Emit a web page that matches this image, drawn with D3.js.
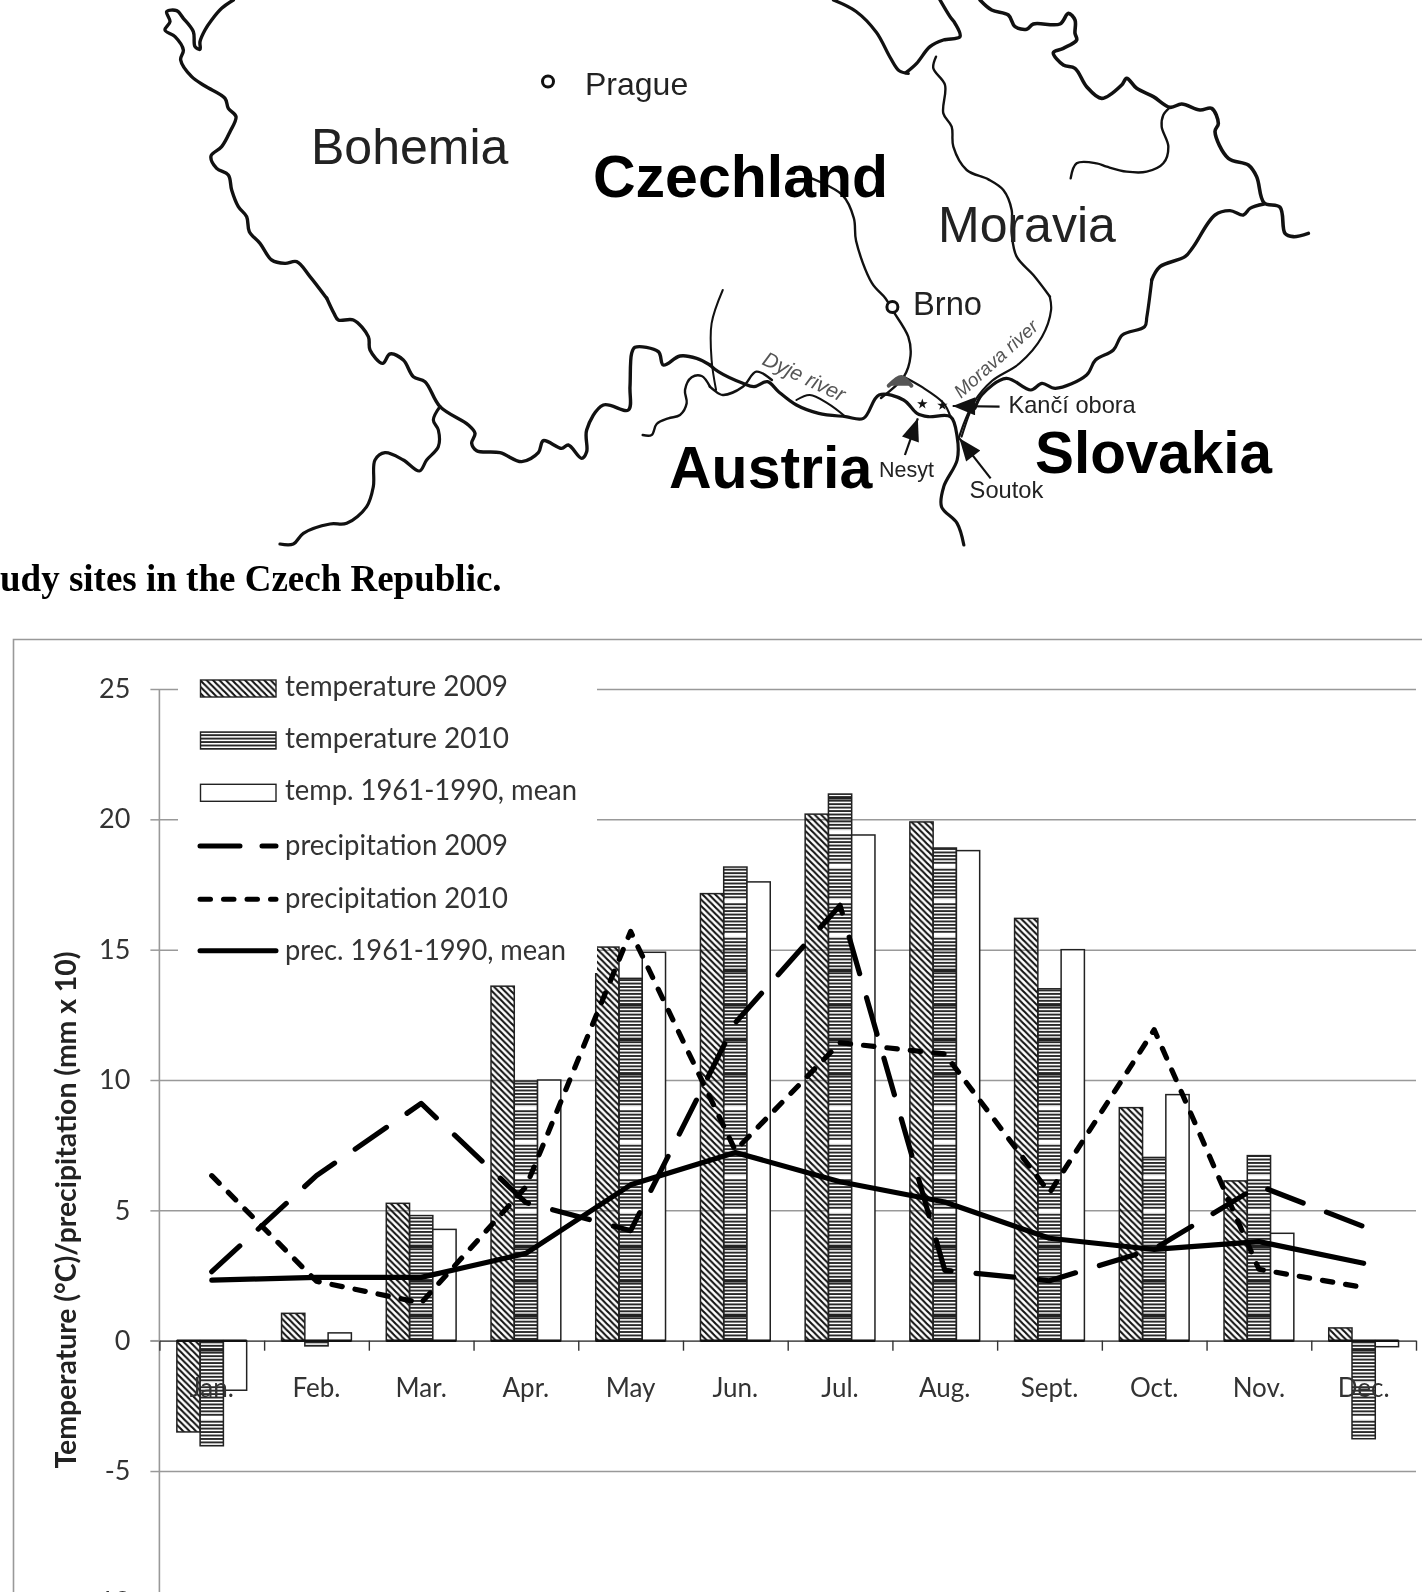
<!DOCTYPE html>
<html>
<head>
<meta charset="utf-8">
<script src="https://cdn.jsdelivr.net/npm/d3@7"></script>
<style>
html, body { margin: 0; padding: 0; background: #fff; overflow: hidden; }
svg { display: block; filter: blur(0.5px); }
.map-label { font-family: "Liberation Sans", sans-serif; fill: #222; }
.chart-text { font-family: Lato, "Open Sans", sans-serif; fill: #333; }
</style>
</head>
<body>
<svg id="fig" width="1422" height="1592"></svg>
<script>
// chart values
var months = ["Jan.", "Feb.", "Mar.", "Apr.", "May", "Jun.", "Jul.", "Aug.", "Sept.", "Oct.", "Nov.", "Dec."];
var yTicks = [-10, -5, 0, 5, 10, 15, 20, 25];

var temp2009 = [-3.5, 1.05, 5.27, 13.6, 15.1, 17.15, 20.2, 19.9, 16.2, 8.94, 6.13, 0.49];
var temp2010 = [-4.03, -0.2, 4.8, 9.96, 13.9, 18.17, 20.97, 18.9, 13.5, 7.03, 7.1, -3.76];
var tempMean = [-1.9, 0.3, 4.27, 10.0, 14.9, 17.6, 19.4, 18.8, 15.0, 9.44, 4.12, -0.23];

var prec2009 = [2.65, 6.33, 9.1, 5.3, 4.22, 12.2, 16.7, 2.7, 2.3, 3.52, 5.94, 4.38];
var prec2010 = [6.33, 2.28, 1.45, 5.9, 15.7, 7.3, 11.43, 11.0, 5.67, 11.93, 2.74, 2.04];
var precMean = [2.32, 2.43, 2.43, 3.35, 5.98, 7.22, 6.1, 5.32, 3.93, 3.5, 3.8, 2.97];

var barNames = ["temperature 2009", "temperature 2010", "temp. 1961-1990, mean"];
var lineNames = ["precipitation 2009", "precipitation 2010", "prec. 1961-1990, mean"];

// map traces, each in its own sheet of the scanned map
var nwBorder = [[250,0],[215,25],[185,60],[165,90],[150,125],[150,148],[135,140],[130,95],[100,55],[80,32],[50,35],[60,65],[45,90],[75,110],[100,150],[92,180],[125,230],[165,258],[225,295],[235,325],[258,350],[240,395],[215,440],[183,468],[200,505],[235,525],[245,570],[265,620],[290,650],[298,695],[330,730],[365,780],[405,790],[440,785],[480,830],[530,895]];
var swBorder = [[200,84],[222,130],[235,150],[280,150],[325,200],[330,240],[368,280],[390,252],[430,270],[460,320],[495,335],[540,410],[625,465],[645,490],[635,520],[650,542],[720,548],[785,575],[835,548],[850,512],[905,535],[925,525],[965,565],[980,545],[980,480],[1030,405],[1105,420],[1110,350],[1115,250],[1125,232],[1195,245],[1210,285],[1260,258],[1310,265],[1350,285]];
var swBavaria = [[540,410],[520,450],[535,480],[535,530],[500,570],[478,603],[430,570],[375,548],[345,570],[340,650],[320,710],[260,760],[210,762],[130,790],[100,822],[60,822]];
var swWiggle = [[1148,495],[1175,495],[1190,462],[1225,445],[1260,435],[1280,400],[1275,360],[1295,322],[1325,318],[1350,350]];
var borderSouth = [[246,255],[265,275],[320,310],[345,320],[375,305],[400,335],[440,375],[490,400],[550,410],[590,415],[625,345],[680,360],[710,400],[735,410],[785,410],[800,470],[800,540],[770,620],[765,680],[800,730],[815,795]];
var riverDyje = [[246,320],[255,330],[275,345],[320,320],[350,275],[385,300]];
var riverThaya = [[275,30],[250,130],[250,240],[260,330]];
var riverIsland = [[440,360],[470,345],[510,370],[550,410]];
var riverBrnoLower = [[680,290],[720,320],[770,370],[785,410]];
var riverSoutok = [[840,360],[825,410],[810,470]];
var borderSlovakLow = [[1236,0],[1225,110],[1220,140],[1170,165],[1150,210],[1110,240],[1090,285],[1020,325],[990,310],[965,330],[910,295],[855,345],[840,385]];
var borderNorthA = [[270,0],[320,30],[365,85],[395,150],[415,185],[435,192]];
var borderNorthB = [[18,218],[50,190],[90,140],[130,120],[180,110],[165,70],[150,50],[120,0]];
var neBorder = [[240,0],[275,30],[325,45],[345,80],[380,88],[400,72],[480,72],[505,40],[525,60],[525,100],[530,120],[490,145],[460,158],[490,195],[525,205],[560,260],[605,295],[665,255],[680,235],[710,265],[760,290],[810,322],[845,312],[900,330],[935,325],[955,370],[945,395],[985,475],[1045,495],[1070,530],[1092,608],[1140,622],[1155,700],[1180,710],[1225,700]];
var neSlovak = [[1092,612],[1050,625],[1030,645],[990,632],[945,645],[880,740],[855,770],[780,800],[755,840]];
var neMorava = [[108,170],[100,205],[135,255],[130,340],[155,380],[160,440],[200,510],[265,538],[310,570],[335,630],[335,700],[350,770],[400,825],[450,890]];
var neOdra = [[810,322],[790,345],[785,380],[805,440],[790,490],[740,515],[680,515],[620,500],[590,490],[530,490],[512,535]];
var riverMoravaLow = [[747,775],[750,810],[730,880],[680,950],[620,995],[580,1050],[560,1100],[545,1150]];
var riverBrno = [[210,460],[290,510],[315,570],[320,630],[355,740],[385,780],[400,810],[435,880],[440,930],[425,985],[375,1040]];
var reservoir = [[392,1008],[420,985],[442,1008]];

var svg = d3.select("#fig");
svg.append("rect").attr("width", 1422).attr("height", 1592).attr("fill", "#fff");

var defs = svg.append("defs");
var hatchDiag = defs.append("pattern").attr("id", "hatchDiag").attr("patternUnits", "userSpaceOnUse")
    .attr("width", 6.4).attr("height", 6.4);
hatchDiag.append("path").attr("d", "M-1,-1 L7.4,7.4 M-1,5.4 L1,7.4 M5.4,-1 L7.4,1")
    .attr("stroke", "#111").attr("stroke-width", 2.1);

// the scan left a beat in the flat hatch: four dark bands, then four light ones
var beat = 34.5, stripe = 3.45;
var hatchFlat = defs.append("pattern").attr("id", "hatchFlat").attr("patternUnits", "userSpaceOnUse")
    .attr("width", 8).attr("height", beat * 8).attr("patternTransform", "translate(0,955)");
d3.range(8).forEach(function(b){
    var top = b * beat;
    d3.range(10).forEach(function(s){
        hatchFlat.append("rect").attr("y", top + s * stripe).attr("width", 8).attr("height", 1.9).attr("fill", "#2a2a2a");
    });
    if (b < 4) {
        hatchFlat.append("rect").attr("y", top + 4 * stripe).attr("width", 8).attr("height", 3.2).attr("fill", "#222");
    } else {
        hatchFlat.append("rect").attr("y", top + 4 * stripe - 0.5).attr("width", 8).attr("height", 3).attr("fill", "#fff");
    }
});

defs.append("marker").attr("id", "arrowHead").attr("viewBox", "0 0 20 16").attr("refX", 20).attr("refY", 8)
    .attr("markerUnits", "userSpaceOnUse").attr("markerWidth", 26).attr("markerHeight", 18).attr("orient", "auto")
    .append("path").attr("d", "M0,0 L20,8 L0,16 Z").attr("fill", "#111");

//---- map ----
function sheet(x0, y0, w, h, zx, zy) {
    return {x: d3.scaleLinear().domain([0, w * zx]).range([x0, x0 + w]), y: d3.scaleLinear().domain([0, h * zy]).range([y0, y0 + h])};
}
var sheetNW = sheet(150, 0, 300, 300, 3, 3);
var sheetSW = sheet(260, 270, 450, 280, 3, 3);
var sheetNE = sheet(900, 0, 430, 300, 3, 3);
var sheetEast = sheet(711, 0, 711, 600, 1568 / 711, 1568 / 600);
var sheetSouth = sheet(600, 280, 700, 320, 1568 / 700, 3);

function trace(sh, pts, width, col) {
    var line = d3.line().x(function(d){ return sh.x(d[0]) }).y(function(d){ return sh.y(d[1]) })
        .curve(d3.curveCatmullRom.alpha(0.5));
    return svg.append("path").attr("d", line(pts)).attr("fill", "none")
        .attr("stroke", col || "#111").attr("stroke-width", width)
        .attr("stroke-linejoin", "round").attr("stroke-linecap", "round");
}
trace(sheetNW, nwBorder, 3.4);
trace(sheetSW, swBorder, 3.4);
trace(sheetSW, swBavaria, 3.2);
trace(sheetSW, swWiggle, 2.4);
trace(sheetSouth, borderSouth, 3.2);
trace(sheetSouth, riverDyje, 2.4);
trace(sheetSouth, riverThaya, 2);
trace(sheetSouth, riverIsland, 2);
trace(sheetSouth, riverBrnoLower, 2.2);
trace(sheetSouth, riverSoutok, 2);
trace(sheetSouth, borderSlovakLow, 3.2);
trace(sheetEast, borderNorthA, 3.2);
trace(sheetNE, borderNorthB, 3.4);
trace(sheetNE, neBorder, 3.6);
trace(sheetNE, neSlovak, 3.4);
trace(sheetNE, neMorava, 2.4);
trace(sheetNE, neOdra, 2.4);
trace(sheetEast, riverMoravaLow, 2.2);
trace(sheetEast, riverBrno, 2.4);
trace(sheetEast, reservoir, 4, "#555").attr("fill", "#555");

svg.selectAll("circle.city").data([[548, 81.5], [892.4, 307]]).enter().append("circle")
    .attr("class", "city").attr("cx", function(d){ return d[0] }).attr("cy", function(d){ return d[1] })
    .attr("r", 5.5).attr("fill", "#fff").attr("stroke", "#111").attr("stroke-width", 3);

[[722, 372], [767, 376]].forEach(function(d){
    svg.append("path").attr("d", d3.symbol(d3.symbolStar, 34)())
        .attr("transform", "translate(" + sheetSouth.x(d[0]) + "," + sheetSouth.y(d[1]) + ")").attr("fill", "#111");
});

[[[895, 380], [790, 378]], [[683, 525], [712, 415]], [[875, 595], [805, 475]]].forEach(function(d){
    svg.append("line").attr("x1", sheetSouth.x(d[0][0])).attr("y1", sheetSouth.y(d[0][1]))
        .attr("x2", sheetSouth.x(d[1][0])).attr("y2", sheetSouth.y(d[1][1]))
        .attr("stroke", "#111").attr("stroke-width", 2.2).attr("marker-end", "url(#arrowHead)");
});

function mapLabel(txt, x, y, size, bold, col, rot, italic) {
    svg.append("text").attr("class", "map-label").text(txt)
        .attr("transform", "translate(" + x + "," + y + ")" + (rot ? " rotate(" + rot + ")" : ""))
        .style("font-size", size + "px").style("font-weight", bold ? "bold" : "normal")
        .style("font-style", italic ? "italic" : "normal")
        .style("fill", col || "#222");
}
mapLabel("Prague", 585, 94.5, 32);
mapLabel("Bohemia", 311, 164, 50);
mapLabel("Czechland", 593, 197, 59, true, "#000");
mapLabel("Moravia", 938, 242, 50);
mapLabel("Brno", 913, 315, 32.7);
mapLabel("Dyje river", 761, 364, 21, false, "#555", 25.4, true);
mapLabel("Morava river", 961, 399, 19, false, "#555", -42, true);
mapLabel("Kančí obora", 1008.5, 413, 23.6);
mapLabel("Austria", 669, 488, 59, true, "#000");
mapLabel("Nesyt", 879, 477, 21.5);
mapLabel("Soutok", 969.6, 498, 23.7);
mapLabel("Slovakia", 1035, 473, 58.4, true, "#000");

svg.append("text").text("udy sites in the Czech Republic.")
    .attr("x", 0).attr("y", 591)
    .style("font-family", '"Liberation Serif", serif').style("font-weight", "bold").style("font-size", "37px").style("fill", "#000");

//---- chart ----
var axisLeftX = 159.4, plotRight = 1416;
var yTop = 689, yZero = 1340.7;

svg.append("path").attr("d", "M1422,639.5 H13.5 V1592").attr("fill", "none").attr("stroke", "#999").attr("stroke-width", 1.6);

var y = d3.scaleLinear().domain([0, 25]).range([yZero, yTop]);
var x = d3.scaleBand().domain(months).range([axisLeftX, plotRight]).paddingInner(1/3).paddingOuter(1/6);
var xSub = d3.scaleBand().domain(d3.range(3)).range([0, x.bandwidth()]);
var xEdge = d3.scaleLinear().domain([0, 12]).range([axisLeftX, plotRight]);

// gridlines and y labels
var gridAxis = svg.append("g").attr("transform", "translate(" + axisLeftX + ",0)")
    .call(d3.axisLeft(y).tickValues(yTicks).tickSizeInner(-(plotRight - axisLeftX)).tickSizeOuter(0).tickFormat(""));
gridAxis.selectAll("line").attr("stroke", "#999").attr("stroke-width", 1.5);
gridAxis.select(".domain").remove();

var leftAxis = svg.append("g").attr("transform", "translate(" + axisLeftX + ",0)")
    .call(d3.axisLeft(y).tickValues(yTicks).tickFormat(String).tickSize(9).tickPadding(20));
leftAxis.selectAll("line").attr("stroke", "#999").attr("stroke-width", 1.5);
leftAxis.selectAll("text").attr("class", "chart-text").style("font-size", "27px").style("fill", "#333");
leftAxis.select(".domain").remove();
svg.append("line").attr("x1", axisLeftX).attr("x2", axisLeftX).attr("y1", yTop).attr("y2", 1592)
    .attr("stroke", "#999").attr("stroke-width", 1.6);

// zero line with month ticks, under the bars
var zeroAxis = svg.append("g").attr("transform", "translate(0," + y(0) + ")")
    .call(d3.axisBottom(xEdge).tickValues(d3.range(13)).tickSize(10).tickSizeOuter(0).tickFormat(""));
zeroAxis.selectAll("line").attr("stroke", "#333").attr("stroke-width", 1.4);
zeroAxis.select(".domain").attr("stroke", "#444").attr("stroke-width", 1.3);
svg.append("line").attr("x1", 150.4).attr("x2", axisLeftX).attr("y1", y(0)).attr("y2", y(0)).attr("stroke", "#999").attr("stroke-width", 1.5);

// bars
var barSeries = [
    {values: temp2009, fill: "url(#hatchDiag)"},
    {values: temp2010, fill: "url(#hatchFlat)"},
    {values: tempMean, fill: "#fff"}
];
barSeries.forEach(function(s, k){
    svg.append("g").selectAll("rect").data(s.values).enter().append("rect")
        .attr("x", function(d, i){ return x(months[i]) + xSub(k) })
        .attr("width", xSub.bandwidth())
        .attr("y", function(d){ return y(Math.max(d, 0)) })
        .attr("height", function(d){ return Math.abs(y(d) - y(0)) })
        .attr("fill", s.fill).attr("stroke", "#222").attr("stroke-width", 1.5);
});

// heavy foot under each month's bars
svg.append("g").selectAll("line").data(months).enter().append("line")
    .attr("x1", function(d){ return x(d) }).attr("x2", function(d){ return x(d) + x.bandwidth() })
    .attr("y1", y(0)).attr("y2", y(0)).attr("stroke", "#111").attr("stroke-width", 2.6);

var monthAxis = svg.append("g").attr("transform", "translate(0," + y(0) + ")")
    .call(d3.axisBottom(x).tickSize(0).tickPadding(38));
monthAxis.select(".domain").remove();
monthAxis.selectAll("text").attr("class", "chart-text").style("font-size", "26px").style("fill", "#333");

// precipitation lines
var precLine = d3.line()
    .x(function(d, i){ return x(months[i]) + x.bandwidth() / 2 })
    .y(function(d){ return y(d) });
var lineSeries = [
    {values: prec2009, dash: "38,25"},
    {values: prec2010, dash: "10.5,13"},
    {values: precMean, dash: null}
];
lineSeries.forEach(function(s){
    svg.append("path").attr("d", precLine(s.values)).attr("fill", "none")
        .attr("stroke", "#000").attr("stroke-width", 5.2).attr("stroke-linecap", "round").attr("stroke-linejoin", "round")
        .attr("stroke-dasharray", s.dash);
});

// legend sits on a white box above the grid
svg.append("rect").attr("x", 178).attr("y", 675).attr("width", 419).attr("height", 298).attr("fill", "#fff");
var legendBarY = [680, 732, 784.3];
var legendLineY = [846, 899.3, 950.7];
var legendText = function(txt, yPos, len) {
    svg.append("text").attr("class", "chart-text").text(txt).attr("x", 285).attr("y", yPos)
        .attr("textLength", len).attr("lengthAdjust", "spacingAndGlyphs").style("font-size", "28px");
};
var barLabelLen = [223, 224, 292], lineLabelLen = [223, 223, 281];
barNames.forEach(function(n, k){
    svg.append("rect").attr("x", 200.5).attr("y", legendBarY[k]).attr("width", 75.5).attr("height", 17)
        .attr("fill", barSeries[k].fill).attr("stroke", "#222").attr("stroke-width", 1.4);
    legendText(n, legendBarY[k] + 15.5, barLabelLen[k]);
});
lineNames.forEach(function(n, k){
    svg.append("line").attr("x1", 200).attr("x2", 276).attr("y1", legendLineY[k]).attr("y2", legendLineY[k])
        .attr("stroke", "#000").attr("stroke-width", 5).attr("stroke-linecap", "round")
        .attr("stroke-dasharray", k == 0 ? "40,22" : lineSeries[k].dash);
    legendText(n, legendLineY[k] + 9, lineLabelLen[k]);
});

// y title
svg.append("text").attr("class", "chart-text").text("Temperature (°C)/precipitation (mm x 10)")
    .attr("transform", "translate(76,1210) rotate(-90)").attr("text-anchor", "middle")
    .attr("textLength", 517).attr("lengthAdjust", "spacingAndGlyphs")
    .style("font-size", "28px").style("font-weight", "bold").style("fill", "#222");
</script>
</body>
</html>
